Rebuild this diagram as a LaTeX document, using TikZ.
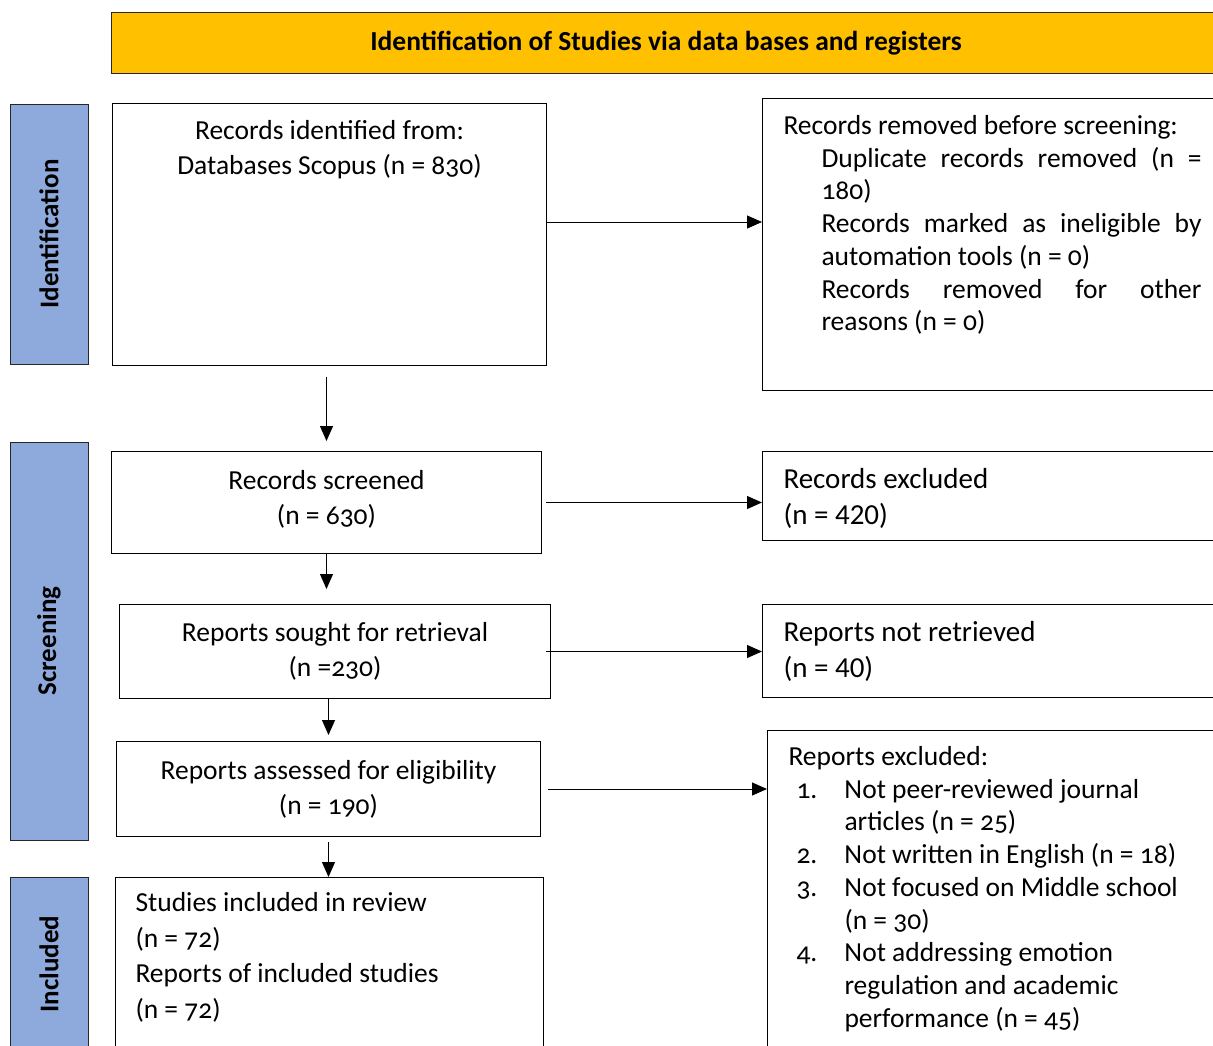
\documentclass[tikz,border=0pt]{standalone}
\usepackage{fontspec}
\setmainfont{Carlito}[Numbers=OldStyle]
\newfontfamily\lining{Carlito}
\usepackage{tikz}
\usetikzlibrary{positioning,arrows.meta}

\definecolor{bannergold}{HTML}{FFC000}
\definecolor{stageblue}{HTML}{8EA9DB}

\tikzset{
  every node/.append style={execute at begin node={\spaceskip=0pt\xspaceskip=0pt}},
  flow/.style={draw, line width=1pt, align=center, font=\fontsize{27.5}{35}\selectfont},
  note/.style={draw, line width=1pt, inner xsep=21pt, inner ysep=16pt, text height=20pt, font=\fontsize{27.5}{32.7}\selectfont},
  stage/.style={draw=black!85, fill=stageblue, line width=1pt, rotate=90, minimum height=78pt, font=\fontsize{27}{32}\selectfont\bfseries},
  banner/.style={draw=black!85, fill=bannergold, line width=1pt, minimum width=1109pt, minimum height=61pt, font=\fontsize{27.5}{30}\selectfont\bfseries},
  arr/.style={line width=1pt, -{Triangle[length=15pt,width=13pt]}}
}

\begin{document}
\begin{tikzpicture}[x=1pt, y=1pt]
  \useasboundingbox (0,0) rectangle (1213,-1045);

  % Define nodes
  \node[banner, anchor=north west] (title) at (111,-12) {Identification of Studies via data bases and registers};

  \node[stage, minimum width=260pt] (sideid) at (49,-234) {Identification};
  \node[stage, minimum width=398pt] (sidescr) at (49,-641) {Screening};
  \node[stage, minimum width=174pt] (sideinc) at (49,-964) {Included};

  \node[flow, below=29pt of title.south west, anchor=north west, xshift=1pt, minimum width=434pt, inner ysep=16pt, text height=55pt, text depth=175pt] (ident) {Records identified from:\\ Databases Scopus (n = 830)};
  \node[flow, below=85pt of ident, xshift=-3pt, minimum width=430pt, minimum height=102pt] (screened) {Records screened\\ (n = 630)\\[-25pt]};
  \node[flow, below=50pt of screened, xshift=8.5pt, minimum width=431pt, minimum height=94pt] (sought) {Reports sought for retrieval\\ (n =230)};
  \node[flow, below=42pt of sought, xshift=-6.5pt, minimum width=424pt, minimum height=95pt] (assessed) {Reports assessed for eligibility\\ (n = 190)};
  \node[flow, below=40pt of assessed.south west, anchor=north west, xshift=-1pt, align=left, text width=388pt, inner xsep=20pt, inner ysep=14pt, text height=20pt, text depth=150pt, font=\fontsize{27.5}{35.5}\selectfont] (included) {Studies included in review\\ (n = 72)\\ Reports of included studies\\ (n = 72)};

  \node[note, right=215pt of ident.north east, anchor=north west, yshift=5pt, text width=418pt, align=justify, text depth=240pt] (removed) {Records removed before screening:\par
    \leftskip=38pt
    Duplicate records removed (n =\linebreak 180)\par
    Records marked as ineligible by\linebreak automation tools (n = 0)\par
    Records removed for other\linebreak reasons (n = 0)\par};
  \node[note, right=220pt of screened.north east, anchor=north west, text width=430pt, align=left, font=\lining\fontsize{29}{36}\selectfont, text height=21pt, inner ysep=16pt, text depth=36pt] (excl) {Records excluded\\ (n = 420)};
  \node[note, right=211pt of sought.north east, anchor=north west, text width=430pt, align=left, font=\lining\fontsize{29}{36}\selectfont, text height=21pt, inner ysep=16pt, text depth=40pt] (notret) {Reports not retrieved\\ (n = 40)};
  \node[note, right=226pt of assessed.north east, anchor=north west, yshift=11pt, text width=430pt, align=left, inner ysep=15pt, text depth=300pt] (rexcl) {Reports excluded:\par
    \leftskip=8pt
    \hangindent=48pt\hangafter=1\makebox[48pt][l]{1.}Not peer-reviewed journal\newline articles (n = 25)\par
    \hangindent=48pt\hangafter=1\makebox[48pt][l]{2.}Not written in English (n = 18)\par
    \hangindent=48pt\hangafter=1\makebox[48pt][l]{3.}Not focused on Middle school\newline (n = 30)\par
    \hangindent=48pt\hangafter=1\makebox[48pt][l]{4.}Not addressing emotion\newline regulation and academic\newline performance (n = 45)\par};

  % Connect the nodes
  \draw[arr] ([yshift=-11pt]ident.south -| screened) -- ([yshift=10pt]screened.north);
  \draw[arr] (screened.south) -- ([yshift=15pt]screened.south |- sought.north);
  \draw[arr] (sought.south -| assessed) -- ([yshift=6pt]assessed.north);
  \draw[arr] ([yshift=-5pt]assessed.south) -- (assessed.south |- included.north);

  \draw[arr] ([yshift=-119pt]ident.north east) -- ([yshift=-119pt]ident.north east -| removed.west);
  \draw[arr] ([xshift=4pt]screened.east) -- (screened.east -| excl.west);
  \draw[arr] ([xshift=-5pt]sought.east) -- (sought.east -| notret.west);
  \draw[arr] ([xshift=7pt]assessed.east) -- (assessed.east -| rexcl.west);

\end{tikzpicture}
\end{document}
